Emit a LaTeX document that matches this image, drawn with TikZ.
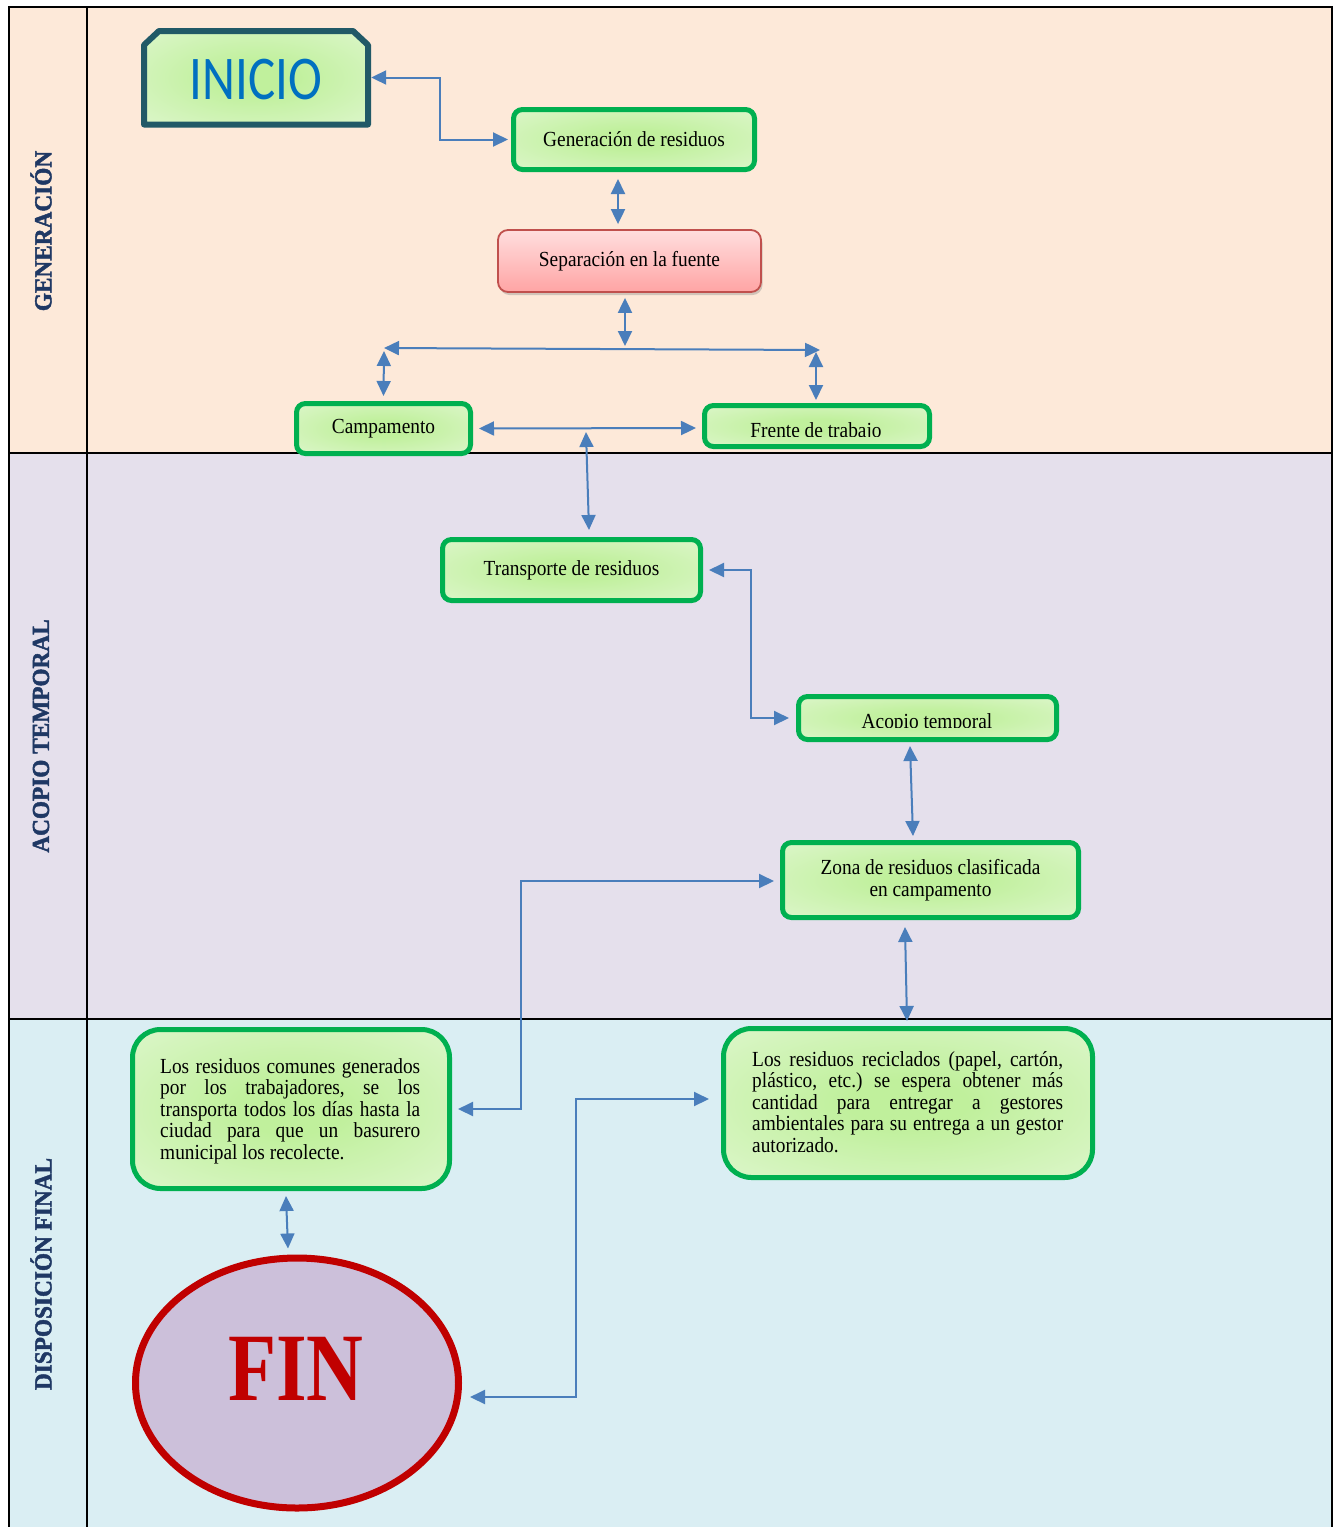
\documentclass[tikz,border=0pt]{standalone}
\usepackage{fontspec}
\usepackage{graphicx}
\setmainfont{Liberation Serif}[FakeStretch=0.9]
\newfontfamily\calibrifont{Carlito}
\newfontfamily\lanefont{Liberation Serif Bold}[FakeBold=1.8, FakeStretch=0.95]
\usetikzlibrary{arrows.meta,shapes.geometric,shadows}
\definecolor{laneA}{HTML}{FDE9D9}
\definecolor{laneB}{HTML}{E5E0EC}
\definecolor{laneC}{HTML}{DAEEF3}
\definecolor{navy}{HTML}{1F3864}
\definecolor{boxgreen}{HTML}{00B050}
\definecolor{gin}{HTML}{C0F09C}
\definecolor{gout}{HTML}{EAF9E1}
\definecolor{arrowblue}{HTML}{4A7EBB}
\definecolor{sepborder}{HTML}{C0504D}
\definecolor{septop}{HTML}{FFDEDE}
\definecolor{sepbot}{HTML}{FFA4A4}
\definecolor{inicioborder}{HTML}{215967}
\definecolor{iniciotext}{HTML}{0070C0}
\definecolor{finred}{HTML}{C00000}
\definecolor{finfill}{HTML}{CCC0DA}
\pgfdeclareradialshading{boxglow}{\pgfpoint{0bp}{0bp}}{color(0bp)=(gin); color(8bp)=(gin); color(50bp)=(gout)}
\newcommand\bt{\fontsize{21.5}{21.5}\selectfont\frenchspacing}
\begin{document}
\begin{tikzpicture}[x=1pt,y=-1pt,
  conn/.style={draw=arrowblue, line width=2pt, {Triangle[length=15pt,width=14pt]}-{Triangle[length=15pt,width=14pt]}},
  gbox/.style={draw=boxgreen, line width=5pt, rounded corners=9pt, shading=boxglow, font=\bt, align=center, inner sep=0pt},
  pbox/.style={gbox, rounded corners=28pt},
  btext/.style={font=\bt, inner sep=0pt},
  lanetxt/.style={rotate=90, font=\lanefont\fontsize{24.5}{26}\selectfont, text=navy, inner sep=0pt},
  lanerule/.style={draw=black, line width=2.2pt}
]
\useasboundingbox (0,0) rectangle (1333,1527);
\fill[white] (0,0) rectangle (1333,1527);
% lanes
\fill[laneA] (9,7) rectangle (1332,453);
\fill[laneB] (9,453) rectangle (1332,1019);
\fill[laneC] (9,1019) rectangle (1332,1535);
\draw[lanerule] (9,1535) -- (9,7) -- (1332,7) -- (1332,1535);
\draw[lanerule] (9,453) -- (1332,453);
\draw[lanerule] (9,1019) -- (1332,1019);
\draw[lanerule] (87,7) -- (87,1535);
\node[lanetxt] (laneGen) at (41,231) {GENERACIÓN};
\node[lanetxt] (laneAco) at (41,736) {ACOPIO TEMPORAL};
\node[lanetxt] (laneDis) at (41,1274) {DISPOSICIÓN FINAL};

% INICIO
\path[draw=inicioborder, line width=6pt, shading=boxglow, line join=round]
  (144,124.5) -- (144,45) -- (159,31) -- (353,31) -- (368,45) -- (368,124.5) -- cycle;
\node[minimum width=226pt, minimum height=95pt, inner sep=0pt] (inicio) at (256,77.5) {};
\node[inner sep=0pt, text=iniciotext, font=\calibrifont\fontsize{51}{51}\selectfont] (inicioTxt) at (256,80) {\scalebox{1}[1.22]{INICIO}};

% boxes
\node[gbox, minimum width=241pt, minimum height=60pt] (gen) at (634,139.5) {Generación de residuos};
\node[draw=sepborder, line width=1.8pt, rounded corners=10pt, top color=septop, bottom color=sepbot,
      drop shadow={shadow xshift=1.5pt, shadow yshift=-3pt, opacity=0.35},
      minimum width=263pt, minimum height=62pt, font=\bt, inner sep=0pt] (sep) at (629.5,261) {Separación en la fuente};
\node[gbox, minimum width=174pt, minimum height=50pt] (camp) at (383.5,428.5) {Campamento};
\node[gbox, minimum width=225pt, minimum height=41pt] (frente) at (817,426) {};
\begin{scope}
  \clip (704,400) rectangle (930,436.5);
  \node[btext, anchor=base] (frenteTxt) at (816,437.5) {Frente de trabajo};
\end{scope}
\node[gbox, minimum width=258pt, minimum height=61pt] (trans) at (571.5,570) {Transporte de residuos};
\node[gbox, minimum width=258pt, minimum height=43pt] (acopio) at (927.5,718) {};
\begin{scope}
  \clip (798,690) rectangle (1057,727);
  \node[btext, anchor=base] (acopioTxt) at (927,728.5) {Acopio temporal};
\end{scope}
\node[gbox, minimum width=296pt, minimum height=75pt] (zona) at (930.5,880) {Zona de residuos clasificada\\en campamento};
\node[pbox, minimum width=317pt, minimum height=159pt] (lbox) at (291,1109) {};
\node[btext, anchor=north west, text width=260pt, align=justify] (ltxt) at (160,1058)
  {\hyphenpenalty=10000 Los residuos comunes generados\linebreak por los trabajadores, se los\linebreak transporta todos los días hasta la\linebreak ciudad para que un basurero\linebreak municipal los recolecte.};
\node[pbox, minimum width=369pt, minimum height=149pt] (rbox) at (908,1103) {};
\node[btext, anchor=north west, text width=311pt, align=justify] (rtxt) at (752,1051)
  {\hyphenpenalty=10000 Los residuos reciclados (papel, cartón,\linebreak plástico, etc.) se espera obtener más\linebreak cantidad para entregar a gestores\linebreak ambientales para su entrega a un gestor\linebreak autorizado.};

% FIN
\node[ellipse, draw=finred, line width=7pt, fill=finfill, minimum width=323pt, minimum height=250pt, inner sep=0pt] (fin) at (297,1383) {};
\node[inner sep=0pt, text=finred, font=\fontsize{92}{92}\selectfont\bfseries] (finTxt) at (296,1369) {\scalebox{0.95}[1.05]{FIN}};

% junction coordinates
\coordinate (barL) at (384,348);
\coordinate (barR) at (820,350);
\coordinate (barM) at (625,346);
\coordinate (barLd) at (384,351);
\coordinate (barRd) at (816,352);
\coordinate (cfM) at (586,432);

% connectors
\draw[conn] ([xshift=2pt]inicio.east) -- ++(69,0) |- ([xshift=-3pt]gen.west);
\draw[conn] ([xshift=-16pt,yshift=-7pt]gen.south) -- ([xshift=-11.5pt,yshift=5pt]sep.north);
\draw[conn] ([xshift=-4.5pt,yshift=-5pt]sep.south) -- (barM);
\draw[conn] (barL) -- (barR);
\draw[conn] (barLd) -- ([yshift=5pt]camp.north);
\draw[conn] (barRd) -- ([xshift=-1pt,yshift=3pt]frente.north);
\draw[conn] ([xshift=6pt]camp.east) -- ([xshift=-6pt,yshift=-2pt]frente.west);
\draw[conn] (cfM) -- ([xshift=17.5pt,yshift=7pt]trans.north);
\draw[conn] ([xshift=6pt]trans.east) -- ++(42,0) |- ([xshift=-7pt]acopio.west);
\draw[conn] ([xshift=-17.5pt,yshift=-4pt]acopio.south) -- ([xshift=-17.5pt,yshift=4pt]zona.north);
\draw[conn] ([xshift=-6pt,yshift=-1pt]zona.west) -- ++(-253,0) |- ([xshift=6pt]lbox.east);
\draw[conn] ([xshift=-25.5pt,yshift=-7pt]zona.south) -- ([xshift=-1pt,yshift=5pt]rbox.north);
\draw[conn] ([xshift=-5pt,yshift=-5pt]lbox.south) -- ([xshift=-9pt,yshift=6pt]fin.north);
\draw[conn] ([xshift=8pt,yshift=-14pt]fin.east) -- ++(106,0) |- ([xshift=-12pt,yshift=4pt]rbox.west);
\end{tikzpicture}
\end{document}
